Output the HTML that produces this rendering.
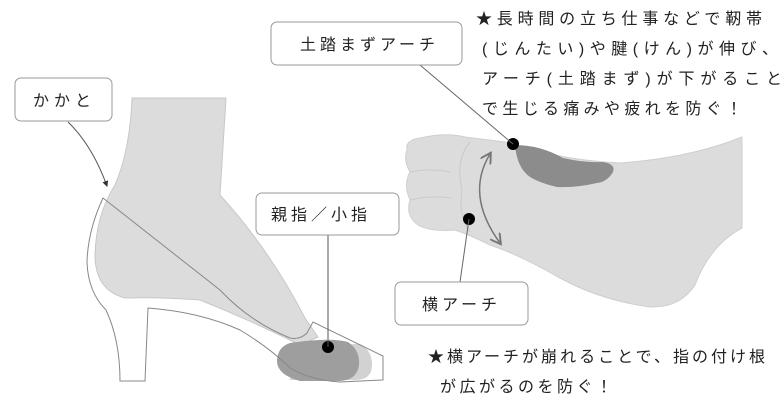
<!DOCTYPE html>
<html><head><meta charset="utf-8"><style>
html,body{margin:0;padding:0;background:#fff;}
svg{display:block;}
text{font-family:"Liberation Sans","Noto Sans CJK JP",sans-serif;fill:#222;}
</style></head><body>
<svg width="781" height="404" viewBox="0 0 781 404" xmlns="http://www.w3.org/2000/svg">
<defs><marker id="ah" markerWidth="6" markerHeight="6" refX="5" refY="3" orient="auto"><path d="M0,0 L6,3 L0,6 z" fill="#333"/></marker>
<marker id="ah2" markerWidth="8" markerHeight="8" refX="6" refY="4" orient="auto-start-reverse"><path d="M0,0 L7,4 L0,8" fill="none" stroke="#777" stroke-width="1.3"/></marker></defs>

<!-- left: leg and foot -->
<path d="M132,98 L226,98 L220,195 Q270,250 305,318 L318,337 L300,345 Q250,320 200,300 Q160,297 125,298 Q95,290 95,255 Q96,215 115,185 Q130,150 132,98 Z" fill="#dcdcdc" stroke="#c8c8c8" stroke-width="1"/>
<!-- toe light -->
<path d="M295,345 L360,344 Q372,350 372,365 Q372,380 355,380 L290,380 Z" fill="#d2d2d2"/>
<!-- toe dark -->
<path d="M290,343 Q330,337 348,342 Q360,350 359,365 Q357,380 340,381 L300,381 Q278,375 277,362 Q277,347 290,343 Z" fill="#9e9e9e"/>
<!-- shoe -->
<path d="M103,198 Q88,230 87,262 Q88,292 106,310 Q120,340 120,381 L145,381 L148,308 Q200,312 240,330 Q270,348 290,368 Q310,380 340,382 L383,380 L383,356 Q360,345 313,322 L307,333 Q300,340 290,338 Q250,322 220,290 Z" fill="none" stroke="#888" stroke-width="1"/>
<circle cx="328" cy="347" r="6" fill="#000"/>
<line x1="328" y1="235" x2="328" y2="347" stroke="#555" stroke-width="1"/>
<rect x="256" y="193" width="143" height="42" rx="6" fill="#fff" stroke="#999"/>
<text x="271" y="220" font-size="16" letter-spacing="4">親指／小指</text>

<rect x="15" y="78" width="97" height="43" rx="6" fill="#fff" stroke="#999"/>
<text x="33" y="106" font-size="16" letter-spacing="5">かかと</text>
<path d="M68,122 Q92,145 107,186" fill="none" stroke="#555" stroke-width="1" marker-end="url(#ah)"/>

<!-- right foot -->
<path d="M407,150 Q405,140 420,138 Q445,132 465,137 L505,142 Q560,160 620,163 Q690,158 742,137 L742,228 Q710,245 695,285 Q680,308 650,307 Q600,300 560,278 Q520,255 490,245 Q470,235 455,230 Q430,232 418,225 Q405,215 410,200 Q403,185 410,172 Q403,160 407,150 Z" fill="#dcdcdc" stroke="#cfcfcf" stroke-width="1"/>
<path d="M470,142 Q455,160 462,190 Q458,215 470,232" fill="none" stroke="#cacaca" stroke-width="1"/>
<path d="M410,172 Q430,168 450,172 M410,200 Q430,195 452,198" fill="none" stroke="#cacaca" stroke-width="1"/>
<path d="M515,145 Q540,145 563,158 Q585,163 603,162 Q616,164 613,172 Q607,182 597,183 Q575,188 557,187 Q540,183 530,177 Q517,168 515,145 Z" fill="#8c8c8c"/>
<circle cx="513" cy="144" r="6" fill="#000"/>
<line x1="420" y1="65" x2="513" y2="144" stroke="#666" stroke-width="1"/>
<rect x="271" y="22" width="191" height="43" rx="6" fill="#fff" stroke="#999"/>
<text x="300" y="50" font-size="16" letter-spacing="4">土踏まずアーチ</text>
<path d="M490,154 Q465,195 500,243" fill="none" stroke="#777" stroke-width="1.5" marker-end="url(#ah2)" marker-start="url(#ah2)"/>
<circle cx="469" cy="219" r="6" fill="#000"/>
<line x1="469" y1="219" x2="460" y2="282" stroke="#666" stroke-width="1"/>
<rect x="395" y="282" width="133" height="43" rx="6" fill="#fff" stroke="#999"/>
<text x="422" y="310" font-size="16" letter-spacing="4">横アーチ</text>

<g font-size="16">
<text x="476" y="24" textLength="286" lengthAdjust="spacing">★長時間の立ち仕事などで靭帯</text>
<text x="482" y="54" textLength="296" lengthAdjust="spacing">(じんたい)や腱(けん)が伸び、</text>
<text x="482" y="84" textLength="300" lengthAdjust="spacing">アーチ(土踏まず)が下がること</text>
<text x="482" y="114" textLength="260" lengthAdjust="spacing">で生じる痛みや疲れを防ぐ！</text>
<text x="428" y="362" textLength="337" lengthAdjust="spacing">★横アーチが崩れることで、指の付け根</text>
<text x="440" y="392" textLength="172" lengthAdjust="spacing">が広がるのを防ぐ！</text>
</g>
</svg>
</body></html>
